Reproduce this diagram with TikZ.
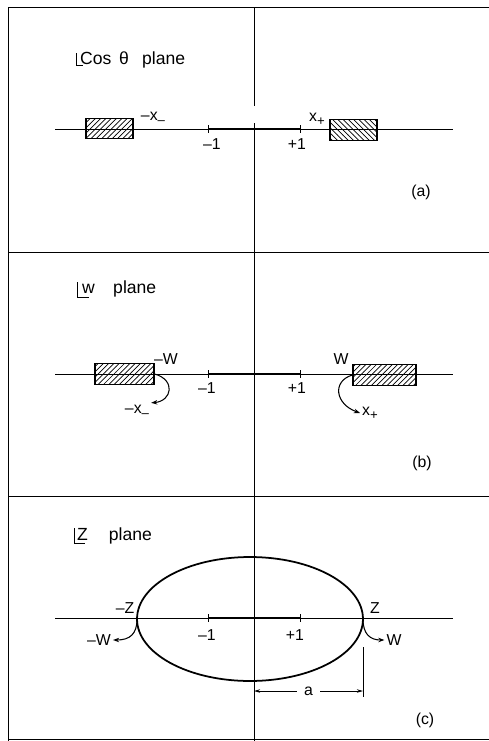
\documentclass[tikz,border=0pt]{standalone}
\usepackage{fontspec}
\setmainfont{Liberation Sans}
\usepackage{tikz}
\usetikzlibrary{positioning, arrows.meta, patterns, shapes.geometric}
\newcommand{\lowsub}[1]{\raisebox{-0.45ex}{\fontsize{7.5}{8}\selectfont #1}}

\begin{document}
\begin{tikzpicture}[x=0.02cm, y=-0.02cm,
    every node/.style={font=\fontsize{9}{10}\selectfont, inner sep=1pt},
    thinline/.style={line width=0.5pt},
    boldline/.style={line width=1.1pt},
    planelabel/.style={anchor=base west, font=\fontsize{10}{11}\selectfont},
    hatchbox/.style={draw, line width=0.7pt, pattern=north east lines, minimum height=0.41cm, inner sep=0pt},
    curlarrow/.style={-{Stealth[length=3.5pt, width=2.5pt]}, line width=0.6pt},
    dimarrow/.style={{Stealth[length=3.5pt, width=2pt]}-{Stealth[length=3.5pt, width=2pt]}, line width=0.5pt}]
  \useasboundingbox (0,0) rectangle (489,741);
  % frame and panels
  \draw[thinline] (489,7) -- (8,7) -- (8,741);
  \draw[thinline] (8,252) -- (489,252);
  \draw[thinline] (8,496) -- (489,496);
  \draw[thinline] (8,739) -- (489,739);
  \draw[thinline] (254,7) -- (254,106);
  \draw[thinline] (254,123) -- (254,741);

  % (a) cos theta plane
  \node[planelabel] (planea) at (78,64) {Cos\hspace{0.45em}θ\hspace{0.75em}plane};
  \draw[thinline] (76,53) -- (76,65) -- (83,65);
  \draw[thinline] (55,129) -- (453,129);
  \draw[boldline] (208,129) -- (300,129);
  \draw[thinline] (208,125) -- (208,133);
  \draw[thinline] (300,125) -- (300,133);
  \node[hatchbox, minimum width=0.94cm] (boxa1) at (109.5,128.5) {};
  \node[hatchbox, minimum width=0.94cm, pattern=north west lines] (boxa2) at (353.5,130) {};
  \node (negxa) at (153,118) {–x\lowsub{–}};
  \node (posxa) at (317,119) {x\lowsub{+}};
  \node (mone_a) at (212,144) {–1};
  \node (pone_a) at (297,144) {+1};
  \node (taga) at (421,192) {(a)};

  % (b) w plane
  \node[planelabel] (planeb) at (80,293) {w\hspace{1.05em}plane};
  \draw[thinline] (77,282) -- (77,297) -- (89,297);
  \draw[thinline] (55,374) -- (453,374);
  \draw[boldline] (208,374) -- (300,374);
  \draw[thinline] (208,370) -- (208,378);
  \draw[thinline] (300,370) -- (300,378);
  \node[hatchbox, minimum width=1.18cm] (boxb1) at (124.5,374) {};
  \node[hatchbox, minimum width=1.26cm] (boxb2) at (384.5,375) {};
  \node (negwb) at (166,359) {–W};
  \node (poswb) at (341,359) {W};
  \node (mone_b) at (207,388) {–1};
  \node (pone_b) at (297,388) {+1};
  \node (negxb) at (137,411) {–x\lowsub{–}};
  \node (posxb) at (370,413) {x\lowsub{+}};
  \node (tagb) at (422,463) {(b)};
  \draw[curlarrow] (boxb1.east) .. controls (176,380) and (172,401) .. (negxb.north east);
  \draw[curlarrow] (boxb2.west) .. controls (332,381) and (335,404) .. (posxb.west);

  % (c) Z plane
  \node[planelabel] (planec) at (75,540) {Z\hspace{1.2em}plane};
  \draw[thinline] (74,528) -- (74,543) -- (85,543);
  \draw[thinline] (55,618) -- (453,618);
  \draw[boldline] (208,618) -- (300,618);
  \draw[thinline] (208,614) -- (208,622);
  \draw[thinline] (300,614) -- (300,622);
  \node[ellipse, draw, line width=1pt, minimum width=4.52cm, minimum height=2.48cm,
        inner sep=0pt, outer sep=0pt] (oval) at (250,619) {};
  \node (negzc) at (125,608) {–Z};
  \node (poszc) at (375,608) {Z};
  \node (negwc) at (99,640) {–W};
  \node (poswc) at (394,640) {W};
  \node (mone_c) at (207,635) {–1};
  \node (pone_c) at (295,635) {+1};
  \draw[curlarrow] (oval.east) .. controls (363,634) and (370,640) .. (poswc.west);
  \draw[curlarrow] (oval.west) .. controls (137,634) and (130,640) .. (negwc.east);
  \coordinate (dimtop) at (363,647);
  \coordinate (dimbot) at (363,697);
  \coordinate (diml) at (254,691);
  \coordinate (dimr) at (363,691);
  \draw[thinline] (dimtop) -- (dimbot);
  \draw[dimarrow] (diml) -- node[fill=white, inner sep=4pt] (alen) {a} (dimr);
  \node (tagc) at (425,720) {(c)};
\end{tikzpicture}
\end{document}
